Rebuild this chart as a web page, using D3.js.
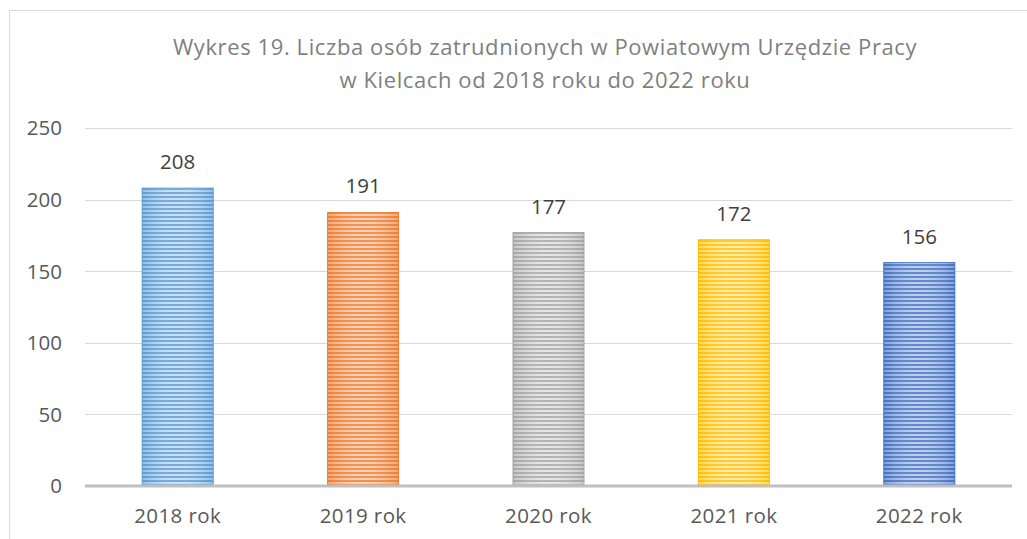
<!DOCTYPE html>
<html>
<head>
<meta charset="utf-8">
<script src="https://cdn.jsdelivr.net/npm/d3@7"></script>
<style>
  body { margin: 0; background: #fff; }
  svg { display: block; font-family: "Open Sans", "Noto Sans", sans-serif; }
</style>
</head>
<body>
<svg id="chart"></svg>
<script>
// chart data
let titleLines = ['Wykres 19. Liczba osób zatrudnionych w Powiatowym Urzędzie Pracy', 'w Kielcach od 2018 roku do 2022 roku']
let categories = ['2018 rok', '2019 rok', '2020 rok', '2021 rok', '2022 rok']
let values = [208, 191, 177, 172, 156]
let yTicks = [0, 50, 100, 150, 200, 250]
let darkColors = ['#5b9bd5', '#ed7d31', '#a5a5a5', '#ffc000', '#4472c4']
let lightColors = ['#c5dcf1', '#f8c9aa', '#e2e2e2', '#ffe9a6', '#b4c7e9']

let width = 1027
let height = 539
let plot = { left: 85, right: 1012, top: 128, bottom: 486 }

let svg = d3.select('#chart')
    .attr('width', width)
    .attr('height', height)

// outer frame of the chart area
svg.append('rect')
    .attr('x', 9.5)
    .attr('y', 10.5)
    .attr('width', width)
    .attr('height', height)
    .attr('fill', 'none')
    .attr('stroke', '#d9d9d9')
    .attr('stroke-width', 1)

let x = d3.scaleBand()
    .domain(categories)
    .range([plot.left, plot.right])
    .paddingInner(0.617)
    .paddingOuter(0.3085)

let y = d3.scaleLinear()
    .domain([0, 250])
    .range([plot.bottom, plot.top])

// striped fills, one per bar
let defs = svg.append('defs')
categories.forEach((c, i) => {
    let pat = defs.append('pattern')
        .attr('id', 'stripe' + i)
        .attr('patternUnits', 'userSpaceOnUse')
        .attr('width', 8)
        .attr('height', 4)
    pat.append('rect')
        .attr('width', 8).attr('height', 4)
        .attr('fill', lightColors[i])
    pat.append('rect')
        .attr('y', 0)
        .attr('width', 8).attr('height', 2)
        .attr('fill', darkColors[i])

    let grad = defs.append('linearGradient')
        .attr('id', 'shade' + i)
        .attr('x1', 0).attr('x2', 1).attr('y1', 0).attr('y2', 0)
    grad.append('stop').attr('offset', 0).attr('stop-color', darkColors[i]).attr('stop-opacity', 0.45)
    grad.append('stop').attr('offset', 0.5).attr('stop-color', '#ffffff').attr('stop-opacity', 0.15)
    grad.append('stop').attr('offset', 1).attr('stop-color', darkColors[i]).attr('stop-opacity', 0.45)
})

// gridlines
svg.append('g')
    .selectAll('line.grid')
    .data(yTicks.filter(t => t > 0))
    .enter().append('line')
    .attr('class', 'grid')
    .attr('x1', plot.left)
    .attr('x2', plot.right)
    .attr('y1', d => Math.round(y(d)) + 0.5)
    .attr('y2', d => Math.round(y(d)) + 0.5)
    .attr('stroke', '#d9d9d9')
    .attr('stroke-width', 1)

// y tick labels
svg.append('g')
    .selectAll('text.ytick')
    .data(yTicks)
    .enter().append('text')
    .attr('class', 'ytick')
    .attr('x', 62)
    .attr('y', d => y(d))
    .attr('dy', '0.36em')
    .attr('text-anchor', 'end')
    .attr('fill', '#595959')
    .attr('font-size', 20.5)
    .text(d => d)

// bars
let bars = svg.append('g')
    .selectAll('g.bar')
    .data(values)
    .enter().append('g')
    .attr('class', 'bar')

bars.append('rect')
    .attr('x', (d, i) => x(categories[i]))
    .attr('y', d => y(d))
    .attr('width', x.bandwidth())
    .attr('height', d => y(0) - y(d))
    .attr('fill', (d, i) => 'url(#stripe' + i + ')')
    .attr('stroke', (d, i) => darkColors[i])
    .attr('stroke-width', 1)

bars.append('rect')
    .attr('x', (d, i) => x(categories[i]))
    .attr('y', d => y(d))
    .attr('width', x.bandwidth())
    .attr('height', d => y(0) - y(d))
    .attr('fill', (d, i) => 'url(#shade' + i + ')')

// value labels
bars.append('text')
    .attr('x', (d, i) => x(categories[i]) + x.bandwidth() / 2)
    .attr('y', d => y(d) - 19)
    .attr('text-anchor', 'middle')
    .attr('fill', '#404040')
    .attr('font-size', 20.5)
    .text(d => d)

// x axis baseline
svg.append('line')
    .attr('x1', plot.left)
    .attr('x2', plot.right)
    .attr('y1', y(0))
    .attr('y2', y(0))
    .attr('stroke', '#bfbfbf')
    .attr('stroke-width', 3)

// category labels
let xAxis = d3.axisBottom(x).tickSize(0).tickPadding(0)
let gx = svg.append('g')
    .attr('transform', 'translate(0,' + (plot.bottom + 37) + ')')
    .call(xAxis)
gx.select('.domain').remove()
gx.selectAll('text')
    .attr('dy', 0)
    .attr('fill', '#595959')
    .attr('font-size', 20.5)
    .attr('letter-spacing', 0.4)
    .attr('font-family', '"Open Sans", "Noto Sans", sans-serif')

// title
svg.append('text')
    .attr('x', 545)
    .attr('text-anchor', 'middle')
    .attr('fill', '#7f7f7f')
    .attr('font-size', 22)
    .attr('letter-spacing', 0.6)
    .selectAll('tspan')
    .data(titleLines)
    .enter().append('tspan')
    .attr('x', 545)
    .attr('y', (d, i) => 55 + i * 33)
    .text(d => d)
</script>
</body>
</html>
